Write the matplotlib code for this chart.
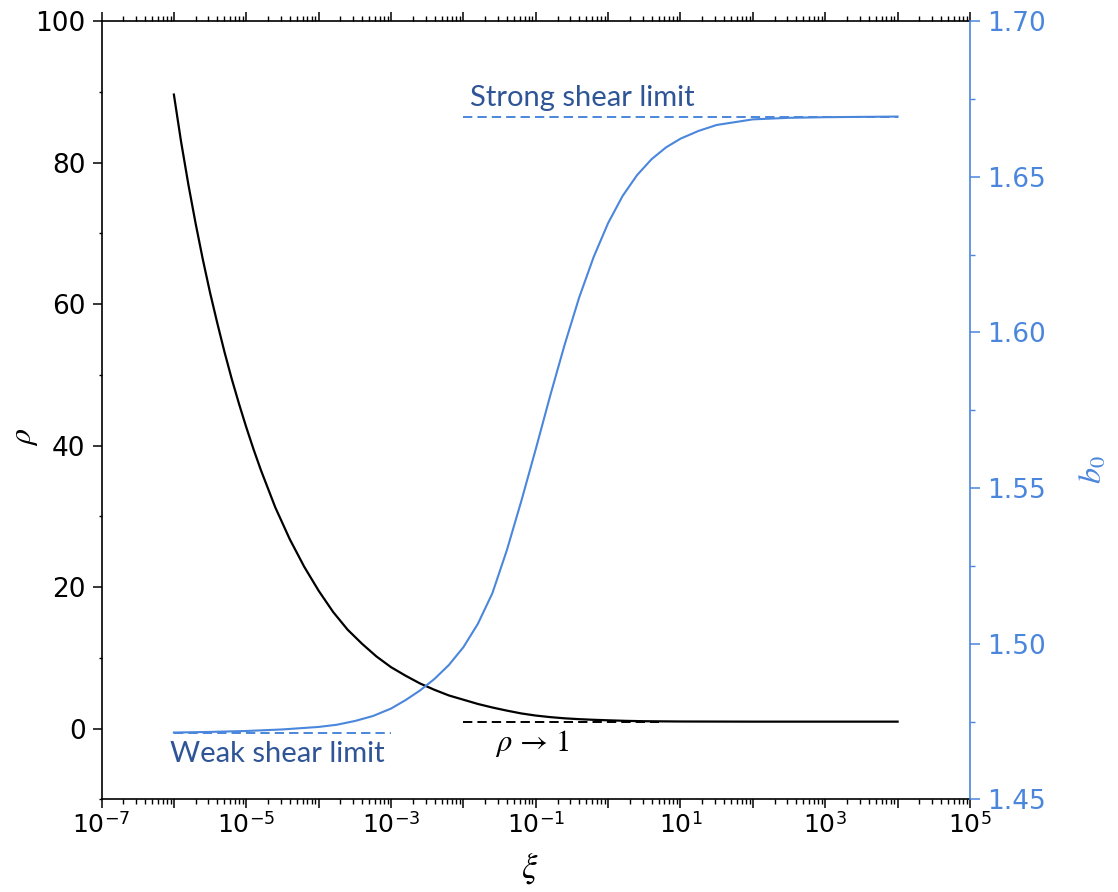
import numpy as np
import matplotlib
matplotlib.use("Agg")
import matplotlib.pyplot as plt
from matplotlib.ticker import FixedLocator, FuncFormatter, MultipleLocator, FormatStrFormatter

plt.rcParams['font.family'] = 'DejaVu Sans'
plt.rcParams['mathtext.fontset'] = 'stix'

# rho along the shear parameter (x given as log10 of xi)
log_xi_rho = [-6.0, -5.9, -5.8, -5.7, -5.6, -5.5, -5.4, -5.3, -5.2, -5.1, -5.0, -4.9, -4.8,
              -4.6, -4.4, -4.2, -4.0, -3.8, -3.6, -3.4, -3.2, -3.0, -2.8, -2.6, -2.4,
              -2.2, -2.0, -1.8, -1.6, -1.4, -1.2, -1.0, -0.8, -0.6, -0.4, -0.2, 0.0,
              0.25, 0.5, 1.0, 1.5, 2.0, 3.0, 4.0]
rho = [89.6, 82.9, 76.9, 71.4, 66.3, 61.6, 57.3, 53.2, 49.4, 45.9, 42.6, 39.5, 36.6,
       31.3, 26.8, 22.9, 19.5, 16.5, 14.0, 12.0, 10.2, 8.7, 7.5, 6.4, 5.5,
       4.7, 4.1, 3.5, 3.0, 2.56, 2.16, 1.86, 1.64, 1.47, 1.35, 1.26, 1.19,
       1.11, 1.06, 1.02, 1.01, 1.0, 1.0, 1.0]

# b0 along the shear parameter
log_xi_b0 = [-6.0, -5.5, -5.0, -4.5, -4.0, -3.75, -3.5, -3.25, -3.0, -2.8, -2.6, -2.4,
             -2.2, -2.0, -1.8, -1.6, -1.4, -1.2, -1.0, -0.8, -0.6, -0.4, -0.2, 0.0,
             0.2, 0.4, 0.6, 0.8, 1.0, 1.25, 1.5, 2.0, 2.5, 3.0, 4.0]
b0 = [1.4715, 1.4717, 1.4720, 1.4725, 1.4733, 1.4740, 1.4752, 1.4768, 1.4792, 1.4819,
      1.4850, 1.4887, 1.4932, 1.4989, 1.5064, 1.5162, 1.5300, 1.5458, 1.5625, 1.5797,
      1.5961, 1.6112, 1.6242, 1.6351, 1.6438, 1.6505, 1.6556, 1.6594, 1.6622, 1.6647,
      1.6666, 1.6684, 1.6689, 1.6691, 1.6693]

weak_limit = 1.4715
strong_limit = 1.6693
rho_limit = 1.0

blue = '#4a86dc'
note_blue = '#2f5597'
dash = (0, (4.8, 2.6))

fig = plt.figure(figsize=(11.18, 8.92), dpi=100)
ax = fig.add_axes([0.0908, 0.1037, 0.7768, 0.8728])
ax2 = ax.twinx()

ax.plot([1e-2, 5], [rho_limit, rho_limit], color='black', lw=1.4, ls=dash, zorder=2)
ax.plot(10 ** np.array(log_xi_rho), rho, color='black', lw=1.6, zorder=3)

ax2.plot([1e-6, 1e-3], [weak_limit, weak_limit], color=blue, lw=1.4, ls=dash, zorder=2)
ax2.plot([1e-2, 1e4], [strong_limit, strong_limit], color=blue, lw=1.4, ls=dash, zorder=2)
ax2.plot(10 ** np.array(log_xi_b0), b0, color=blue, lw=1.5, zorder=3)

ax.set_xscale('log')
ax.set_xlim(1e-7, 1e5)
ax.set_ylim(-10, 100)
ax2.set_ylim(1.45, 1.70)

# x axis: a major tick every decade, labels on odd powers only
ax.xaxis.set_major_locator(FixedLocator(10.0 ** np.arange(-7, 6)))
ax.xaxis.set_minor_locator(FixedLocator([m * 10.0 ** e for e in range(-7, 5) for m in range(2, 10)]))

def decade_label(v, pos):
    e = int(round(np.log10(v)))
    if e % 2 == 0:
        return ''
    return r'10$^{\mathregular{%d}}$' % e

ax.xaxis.set_major_formatter(FuncFormatter(decade_label))
ax.yaxis.set_major_locator(MultipleLocator(20))
ax.yaxis.set_minor_locator(MultipleLocator(10))
ax2.yaxis.set_major_locator(MultipleLocator(0.05))
ax2.yaxis.set_minor_locator(MultipleLocator(0.025))
ax2.yaxis.set_major_formatter(FormatStrFormatter('%.2f'))

ax.tick_params(axis='x', which='major', direction='out', top=True, length=6.5, width=1.1,
               labelsize=18, pad=3)
ax.tick_params(axis='x', which='minor', direction='out', top=True, length=3.5, width=1.0)
ax.tick_params(axis='y', which='major', direction='out', length=6.5, width=1.1,
               labelsize=19, pad=5)
ax.tick_params(axis='y', which='minor', direction='out', length=2.5, width=1.0)
ax2.tick_params(axis='y', which='major', direction='out', length=7, width=1.1,
                labelsize=19, pad=5, colors=blue)
ax2.tick_params(axis='y', which='minor', direction='out', length=3.5, width=1.0, colors=blue)

for s in ['left', 'top', 'bottom']:
    ax.spines[s].set_linewidth(1.2)
    ax2.spines[s].set_visible(False)
ax.spines['right'].set_visible(False)
ax2.spines['right'].set_color(blue)
ax2.spines['right'].set_linewidth(1.2)

# axis titles
fig.text(25 / 1118, 1 - 437 / 892, r'$\rho$', fontsize=23, rotation=90, ha='center', va='center')
fig.text(530 / 1118, 1 - 868 / 892, r'$\xi$', fontsize=25, ha='center', va='center')
fig.text(1093 / 1118, 1 - 470 / 892, r'$b_0$', fontsize=23, rotation=90, ha='center', va='center',
         color=blue)

# limit annotations
ax2.text(10 ** -1.91, 1.6752, 'Strong shear limit', color=note_blue, fontsize=21,
         family='Lato', ha='left', va='center')
ax.text(10 ** -6.054, -3.6, 'Weak shear limit', color=note_blue, fontsize=21,
        family='Lato', ha='left', va='center')
ax.text(10 ** -1.566, -2.1, r'$\rho\,\rightarrow\,1$', color='black', fontsize=22,
        ha='left', va='center')

fig.savefig('out.png', dpi=100)
